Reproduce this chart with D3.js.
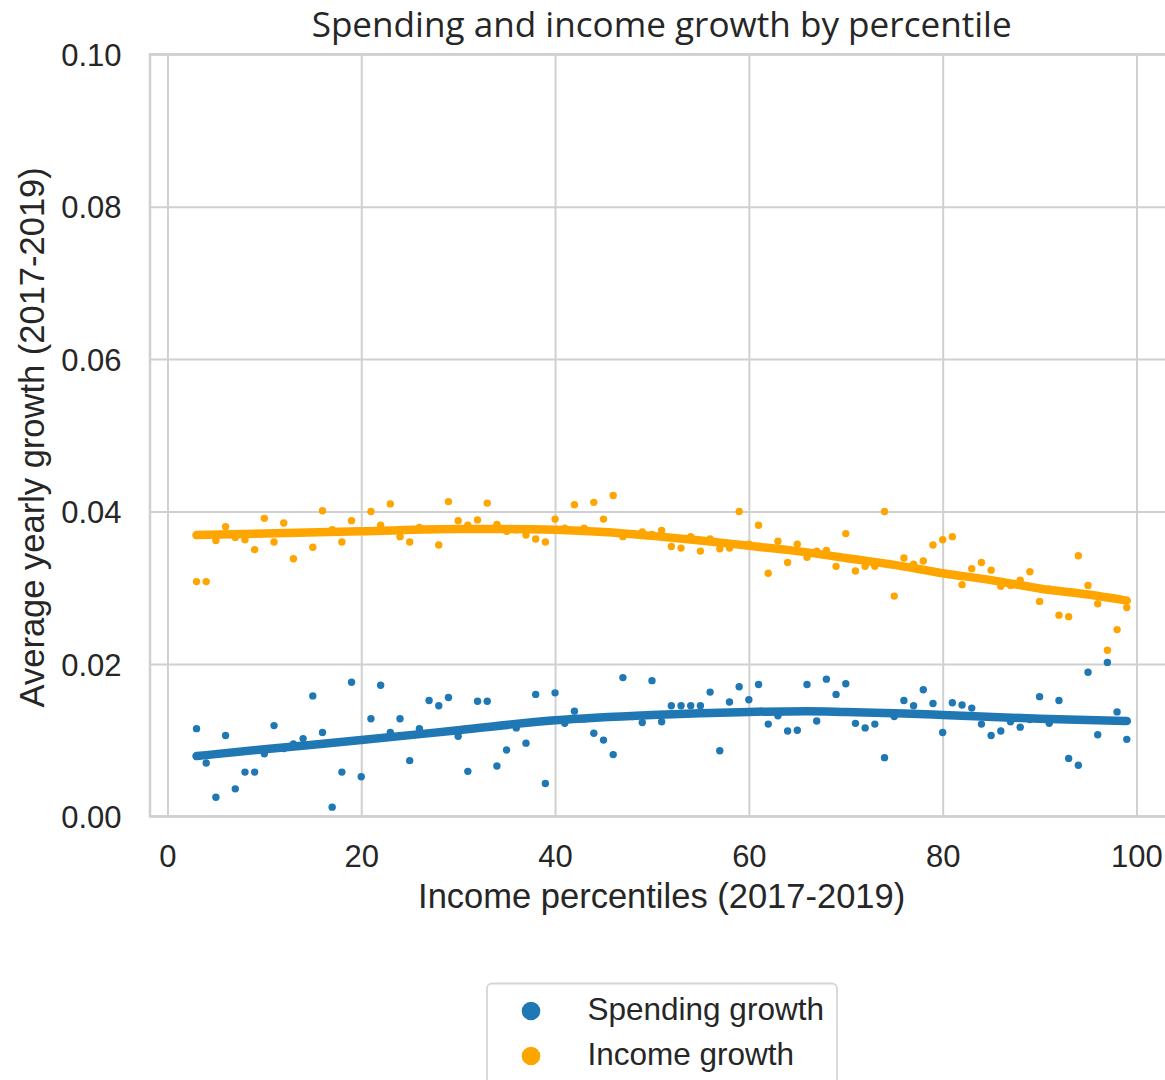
<!DOCTYPE html>
<html>
<head>
<meta charset="utf-8">
<script src="https://cdn.jsdelivr.net/npm/d3@7"></script>
<style>
  html, body { margin: 0; padding: 0; background: #ffffff; }
  svg { display: block; }
</style>
</head>
<body>
<svg id="chart" width="1165" height="1080"></svg>
<script>
// ---------------- DATA ----------------
const percentiles = d3.range(3, 100); // 3 .. 99

const spendingGrowth = [
  0.0115, 0.0070, 0.0025, 0.0106, 0.0036, 0.0058, 0.0058, 0.0082, 0.0119, 0.0089, // 3-12
  0.0095, 0.0102, 0.0158, 0.0110, 0.0012, 0.0058, 0.0176, 0.0052, 0.0128, 0.0172, // 13-22
  0.0110, 0.0128, 0.0073, 0.0115, 0.0152, 0.0145, 0.0156, 0.0105, 0.0059, 0.0151, // 23-32
  0.0151, 0.0066, 0.0087, 0.0116, 0.0096, 0.0160, 0.0043, 0.0162, 0.0122, 0.0138, // 33-42
  0.0128, 0.0109, 0.0100, 0.0081, 0.0182, 0.0131, 0.0123, 0.0178, 0.0124, 0.0145, // 43-52
  0.0145, 0.0145, 0.0145, 0.0163, 0.0086, 0.0150, 0.0170, 0.0153, 0.0173, 0.0121, // 53-62
  0.0132, 0.0112, 0.0113, 0.0173, 0.0125, 0.0180, 0.0160, 0.0174, 0.0122, 0.0116, // 63-72
  0.0121, 0.0077, 0.0131, 0.0152, 0.0145, 0.0166, 0.0148, 0.0110, 0.0149, 0.0146, // 73-82
  0.0142, 0.0121, 0.0106, 0.0112, 0.0124, 0.0117, 0.0127, 0.0157, 0.0122, 0.0152, // 83-92
  0.0076, 0.0067, 0.0189, 0.0107, 0.0202, 0.0137, 0.0101                          // 93-99
];

const incomeGrowth = [
  0.0308, 0.0308, 0.0362, 0.0380, 0.0366, 0.0363, 0.0350, 0.0391, 0.0360, 0.0385, // 3-12
  0.0338, 0.0372, 0.0353, 0.0401, 0.0376, 0.0360, 0.0388, 0.0374, 0.0400, 0.0382, // 13-22
  0.0410, 0.0367, 0.0360, 0.0379, 0.0376, 0.0356, 0.0413, 0.0388, 0.0382, 0.0389, // 23-32
  0.0411, 0.0383, 0.0374, 0.0376, 0.0369, 0.0364, 0.0360, 0.0390, 0.0378, 0.0409, // 33-42
  0.0378, 0.0412, 0.0390, 0.0421, 0.0367, 0.0371, 0.0373, 0.0370, 0.0375, 0.0354, // 43-52
  0.0352, 0.0367, 0.0348, 0.0364, 0.0351, 0.0352, 0.0400, 0.0357, 0.0382, 0.0319, // 53-62
  0.0361, 0.0333, 0.0357, 0.0340, 0.0348, 0.0349, 0.0328, 0.0371, 0.0322, 0.0328, // 63-72
  0.0328, 0.0400, 0.0289, 0.0339, 0.0331, 0.0335, 0.0356, 0.0363, 0.0367, 0.0304, // 73-82
  0.0325, 0.0333, 0.0323, 0.0302, 0.0303, 0.0310, 0.0321, 0.0282, 0.0298, 0.0264, // 83-92
  0.0262, 0.0342, 0.0303, 0.0279, 0.0218, 0.0245, 0.0274                          // 93-99
];

// Smoothed (lowess) trend values
const spendingTrendX = [3, 10, 20, 30, 40, 50, 60, 66, 70, 76, 80, 90, 99];
const spendingTrendY = [0.0079, 0.0088, 0.0100, 0.0113, 0.0126, 0.0133, 0.0137, 0.0138, 0.0137, 0.0135, 0.0133, 0.0128, 0.0125];

const incomeTrendX = [3, 10, 20, 30, 35, 40, 45, 50, 55, 60, 65, 70, 75, 80, 85, 90, 95, 99];
const incomeTrendY = [0.0369, 0.0371, 0.0374, 0.0377, 0.0377, 0.0376, 0.0373, 0.0368, 0.0362, 0.0355, 0.0348, 0.0339, 0.0330, 0.0319, 0.0310, 0.0299, 0.0291, 0.0283];

const xTicks = [0, 20, 40, 60, 80, 100];
const yTicks = [0.00, 0.02, 0.04, 0.06, 0.08, 0.10];

const seriesNames = ["Spending growth", "Income growth"];
const seriesColors = ["#1f77b4", "#ffa500"];

const titleText = "Spending and income growth by percentile";
const xLabelText = "Income percentiles (2017-2019)";
const yLabelText = "Average yearly growth (2017-2019)";

// ---------------- LAYOUT ----------------
const svg = d3.select("#chart");
const TEXT = "#262626";
const GRID = "#d0d0d0";
const SANS = "'Liberation Sans', Arial, sans-serif";

const plotLeft = 150, plotRight = 1173.3, plotTop = 54.3, plotBottom = 816.3;

const x = d3.scaleLinear().domain([-1.8, 103.8]).range([plotLeft, plotRight]);
const y = d3.scaleLinear().domain([0, 0.1]).range([plotBottom, plotTop]);

// gridlines
const gx = svg.append("g")
  .attr("transform", `translate(0,${plotBottom})`)
  .call(d3.axisBottom(x).tickValues(xTicks).tickSize(-(plotBottom - plotTop)).tickFormat(""));
gx.select(".domain").remove();
gx.selectAll("line").attr("stroke", GRID).attr("stroke-width", 2);

const gy = svg.append("g")
  .attr("transform", `translate(${plotLeft},0)`)
  .call(d3.axisLeft(y).tickValues(yTicks).tickSize(-(plotRight - plotLeft)).tickFormat(""));
gy.select(".domain").remove();
gy.selectAll("line").attr("stroke", GRID).attr("stroke-width", 2);

// spines
svg.append("rect")
  .attr("x", plotLeft).attr("y", plotTop)
  .attr("width", plotRight - plotLeft).attr("height", plotBottom - plotTop)
  .attr("fill", "none").attr("stroke", GRID).attr("stroke-width", 2.5);

// tick labels
const xAxis = svg.append("g")
  .attr("transform", `translate(0,${plotBottom})`)
  .call(d3.axisBottom(x).tickValues(xTicks).tickSize(0).tickPadding(28.7).tickFormat(d3.format("d")));
xAxis.select(".domain").remove();
xAxis.selectAll("text").attr("fill", TEXT).style("font-family", SANS).style("font-size", "31px");

const yAxis = svg.append("g")
  .attr("transform", `translate(${plotLeft},0)`)
  .call(d3.axisLeft(y).tickValues(yTicks).tickSize(0).tickPadding(28.5).tickFormat(d3.format(".2f")));
yAxis.select(".domain").remove();
yAxis.selectAll("text").attr("fill", TEXT).attr("dy", "0.36em").style("font-family", SANS).style("font-size", "31px");

// ---------------- MARKS ----------------
const plot = svg.append("g");
const lineGen = d3.line().x(d => x(d[0])).y(d => y(d[1])).curve(d3.curveMonotoneX);

const series = [
  { pts: percentiles.map((p, i) => [p, spendingGrowth[i]]), trend: spendingTrendX.map((p, i) => [p, spendingTrendY[i]]), color: seriesColors[0] },
  { pts: percentiles.map((p, i) => [p, incomeGrowth[i]]), trend: incomeTrendX.map((p, i) => [p, incomeTrendY[i]]), color: seriesColors[1] }
];

series.forEach(s => {
  plot.append("g").selectAll("circle").data(s.pts).join("circle")
    .attr("cx", d => x(d[0])).attr("cy", d => y(d[1]))
    .attr("r", 3.7).attr("fill", s.color);
  plot.append("path").datum(s.trend)
    .attr("d", lineGen)
    .attr("fill", "none").attr("stroke", s.color)
    .attr("stroke-width", 8.5).attr("stroke-linecap", "round").attr("stroke-linejoin", "round");
});

// ---------------- TEXT ----------------
const cx = (plotLeft + plotRight) / 2;
const title = svg.append("text")
  .attr("x", cx).attr("y", 36.7)
  .attr("text-anchor", "middle").attr("fill", TEXT)
  .style("font-family", "'Open Sans', 'Noto Sans', sans-serif")
  .style("font-size", "100px")
  .text(titleText);
const tw = title.node().getComputedTextLength();
title.style("font-size", (100 * 700 / tw).toFixed(2) + "px");

svg.append("text")
  .attr("x", cx).attr("y", 908)
  .attr("text-anchor", "middle").attr("fill", TEXT)
  .style("font-family", SANS).style("font-size", "34.5px")
  .text(xLabelText);

svg.append("text")
  .attr("transform", `translate(43.5,${(plotTop + plotBottom) / 2 + 2}) rotate(-90)`)
  .attr("text-anchor", "middle").attr("fill", TEXT)
  .style("font-family", SANS).style("font-size", "34.5px")
  .text(yLabelText);

// ---------------- LEGEND ----------------
const legend = svg.append("g");
legend.append("rect")
  .attr("x", 487).attr("y", 983.5).attr("width", 350).attr("height", 102)
  .attr("rx", 5).attr("fill", "#ffffff").attr("stroke", "#d6d6d6").attr("stroke-width", 1.8);
seriesNames.forEach((name, i) => {
  const ly = 1011 + i * 45;
  legend.append("circle").attr("cx", 531).attr("cy", ly).attr("r", 9.3).attr("fill", seriesColors[i]);
  legend.append("text").attr("x", 587.5).attr("y", ly + 8.5)
    .attr("fill", TEXT).style("font-family", SANS).style("font-size", "31.5px")
    .text(name);
});
</script>
</body>
</html>
